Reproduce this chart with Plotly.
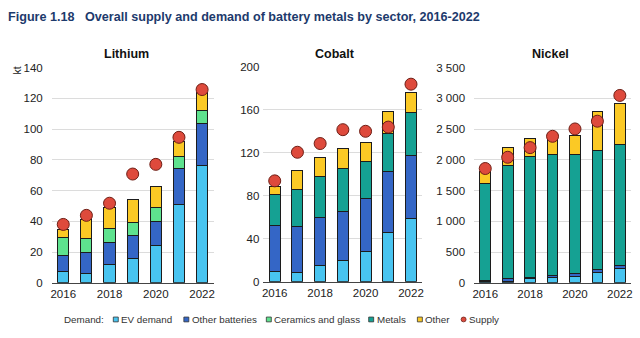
import plotly.graph_objects as go

years = [2016, 2017, 2018, 2019, 2020, 2021, 2022]

# Lithium (kt)
li_ev = [7.3, 6.3, 11.7, 15.5, 24.2, 51.2, 76.5]
li_other_batt = [10.5, 13.7, 14.8, 15.0, 15.7, 23.0, 26.9]
li_ceramics = [11.9, 8.8, 9.0, 9.0, 8.8, 8.3, 8.8]
li_other = [5.3, 12.7, 13.5, 14.6, 14.2, 9.5, 11.5]
li_supply = [38, 43.9, 51.8, 70.8, 77.1, 94.7, 125.8]

# Cobalt (kt)
co_ev = [9.6, 8.4, 15.3, 20.1, 28.5, 45.6, 58.5]
co_other_batt = [42.6, 43.5, 44.1, 45.6, 48.6, 56.6, 58.7]
co_metals = [29.1, 33.9, 38.4, 39.8, 35.0, 35.8, 39.9]
co_other = [7.7, 18.2, 17.9, 18.9, 17.7, 20.0, 18.9]
co_supply = [93.9, 120.5, 128.6, 141.5, 140, 143.9, 183.8]

# Nickel (kt)
ni_ev = [15, 25, 63, 94, 105, 168, 236]
ni_other_batt = [22, 38, 26, 21, 42, 52, 47]
ni_metals = [1587, 1849, 1965, 1970, 1938, 1928, 1970]
ni_other = [184, 288, 293, 245, 315, 639, 671]
ni_supply = [1860, 2043, 2200, 2384, 2504, 2630, 3049]

panel_titles = ["Lithium", "Cobalt", "Nickel"]
y_ranges = [(0, 140, 20), (0, 200, 40), (0, 3500, 500)]
x_ticks = [2016, 2018, 2020, 2022]

legend_labels = ["EV demand", "Other batteries", "Ceramics and glass", "Metals", "Other", "Supply"]
colors = {
    "EV demand": "#48c4f0",
    "Other batteries": "#3466c6",
    "Ceramics and glass": "#5ee28e",
    "Metals": "#15a193",
    "Other": "#fbc925",
    "Supply": "#de4a3c",
}

W, H = 640, 338
def px_x(x):
    return x / W
def px_y(y):
    return 1 - y / H

panels = [
    {"x": (50, 213), "y": (64, 287),
     "series": [("EV demand", li_ev), ("Other batteries", li_other_batt),
                ("Ceramics and glass", li_ceramics), ("Other", li_other)],
     "supply": li_supply},
    {"x": (263, 423), "y": (63, 286),
     "series": [("EV demand", co_ev), ("Other batteries", co_other_batt),
                ("Metals", co_metals), ("Other", co_other)],
     "supply": co_supply},
    {"x": (475, 633), "y": (64, 287),
     "series": [("EV demand", ni_ev), ("Other batteries", ni_other_batt),
                ("Metals", ni_metals), ("Other", ni_other)],
     "supply": ni_supply},
]

fig = go.Figure()
layout_axes = {}
for i, p in enumerate(panels):
    n = i + 1
    xa = "x" if n == 1 else f"x{n}"
    ya = "y" if n == 1 else f"y{n}"
    for name, vals in p["series"]:
        fig.add_trace(go.Bar(
            x=years, y=vals, name=name, xaxis=xa, yaxis=ya,
            marker=dict(color=colors[name], line=dict(color="#1c1c1c", width=1)),
            width=0.48, showlegend=False, hoverinfo="skip"))
    fig.add_trace(go.Scatter(
        x=years, y=p["supply"], name="Supply", mode="markers", xaxis=xa, yaxis=ya,
        marker=dict(color=colors["Supply"], size=12, line=dict(color="#6e1d14", width=1)),
        showlegend=False, hoverinfo="skip"))
    lo, hi, step = y_ranges[i]
    xkey = "xaxis" if n == 1 else f"xaxis{n}"
    ykey = "yaxis" if n == 1 else f"yaxis{n}"
    layout_axes[xkey] = dict(
        domain=[px_x(p["x"][0]), px_x(p["x"][1])], anchor=ya,
        range=[2015.5, 2022.5], tickmode="array", tickvals=x_ticks,
        showgrid=False, zeroline=False, showline=True, linecolor="#444", linewidth=1.2,
        ticks="", tickfont=dict(family="Liberation Sans, Arial", size=11.5, color="#222"),
        fixedrange=True)
    layout_axes[ykey] = dict(
        domain=[px_y(p["y"][1]), px_y(p["y"][0])], anchor=xa,
        range=[lo, hi], tick0=0, dtick=step, tickformat=",d",
        showgrid=True, gridcolor="#dcdcdc", gridwidth=1, zeroline=False,
        showline=False, ticks="", ticklabelstandoff=(3 if n == 2 else 8),
        tickfont=dict(family="Liberation Sans, Arial", size=11.5, color="#222"),
        fixedrange=True)

fig.update_layout(**layout_axes)

annotations = []
# Title
tfont = dict(family="Liberation Sans, Arial", size=12.6, color="#1d3a6c")
annotations.append(dict(text="<b>Figure 1.18</b>", x=px_x(4), y=px_y(11.5), xref="paper", yref="paper",
                        xanchor="left", yanchor="middle", showarrow=False, font=tfont))
annotations.append(dict(text="<b>Overall supply and demand of battery metals by sector, 2016-2022</b>",
                        x=px_x(82), y=px_y(11.5), xref="paper", yref="paper",
                        xanchor="left", yanchor="middle", showarrow=False, font=tfont))
# Panel titles
for t, cx in zip(panel_titles, [125.5, 335, 552]):
    annotations.append(dict(text=f"<b>{t}</b>", x=px_x(cx), y=px_y(50), xref="paper", yref="paper",
                            xanchor="center", yanchor="middle", showarrow=False,
                            font=dict(family="Liberation Sans, Arial", size=12.5, color="#111")))
# Unit label
annotations.append(dict(text="kt", x=px_x(15), y=px_y(67), xref="paper", yref="paper",
                        textangle=-90, xanchor="center", yanchor="middle", showarrow=False,
                        font=dict(family="Liberation Sans, Arial", size=10.5, color="#222")))

# Legend (manual)
leg_y = 325
lfont = dict(family="Liberation Sans, Arial", size=9.8, color="#333")
annotations.append(dict(text="Demand:", x=px_x(60), y=px_y(leg_y), xref="paper", yref="paper",
                        xanchor="left", yanchor="middle", showarrow=False, font=lfont))
sym_x = [112, 183, 266, 369, 418, 462]
shapes = []
for lab, sx in zip(legend_labels, sym_x):
    if lab == "Supply":
        shapes.append(dict(type="circle", xref="paper", yref="paper",
                           x0=px_x(sx), x1=px_x(sx + 5), y0=px_y(leg_y + 2.5), y1=px_y(leg_y - 2.5),
                           fillcolor=colors[lab], line=dict(color="#6e1d14", width=0.8)))
    else:
        shapes.append(dict(type="rect", xref="paper", yref="paper",
                           x0=px_x(sx), x1=px_x(sx + 5), y0=px_y(leg_y + 2.5), y1=px_y(leg_y - 2.5),
                           fillcolor=colors[lab], line=dict(color="#333", width=0.8)))
    annotations.append(dict(text=lab, x=px_x(sx + 6), y=px_y(leg_y), xref="paper", yref="paper",
                            xanchor="left", yanchor="middle", showarrow=False, font=lfont))

fig.update_layout(
    width=W, height=H, margin=dict(l=0, r=0, t=0, b=0),
    paper_bgcolor="white", plot_bgcolor="white",
    barmode="stack", separators=". ",
    annotations=annotations, shapes=shapes, showlegend=False,
)

fig.write_html("out.html", config={"displayModeBar": False})
